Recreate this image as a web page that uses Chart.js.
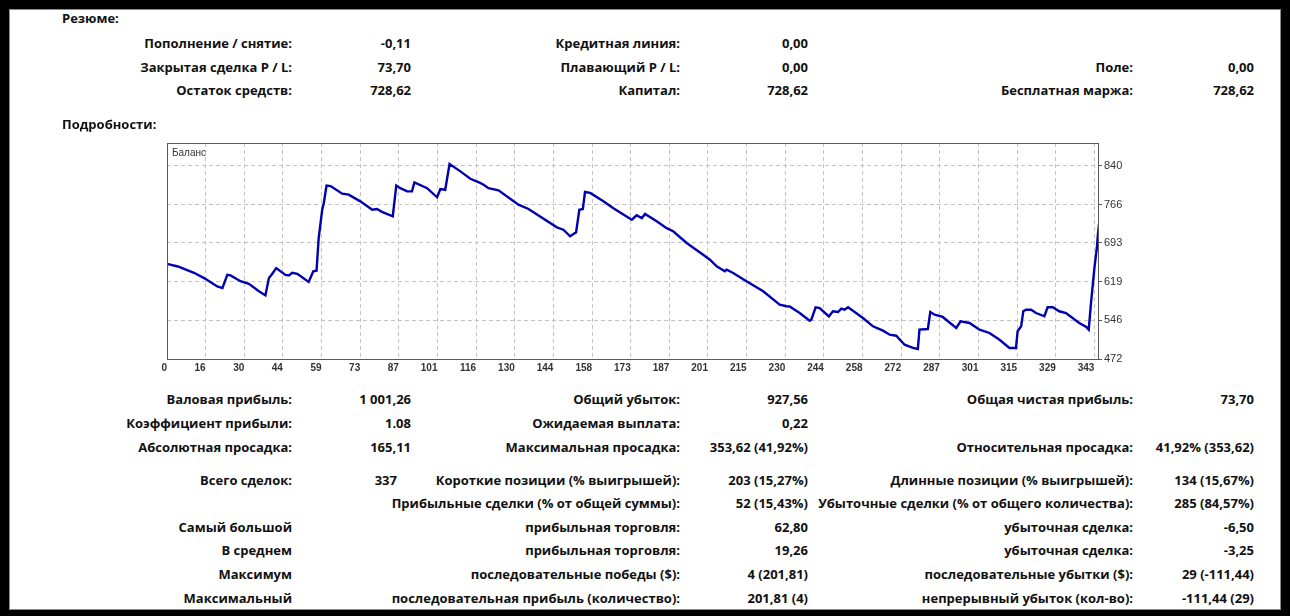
<!DOCTYPE html>
<html>
<head>
<meta charset="utf-8">
<script src="https://cdn.jsdelivr.net/npm/chart.js@4.4.1/dist/chart.umd.min.js"></script>
<style>
  html, body { margin: 0; padding: 0; background: #000; width: 1290px; height: 616px; overflow: hidden; }
  #sheet { position: absolute; left: 9px; top: 9px; width: 1270px; height: 599px; background: #fff; border: 1px solid #8a8a8a; }
  .t { position: absolute; font: bold 13px "Open Sans", "Liberation Sans", Arial, sans-serif; color: #111; line-height: 16px; white-space: nowrap; }
  .r { text-align: right; width: 500px; }
  #chartBox { position: absolute; left: 150px; top: 140px; width: 1000px; height: 240px; }
  #legend { position: absolute; left: 172px; top: 147px; font: 10px "Liberation Sans", Arial, sans-serif; color: #333; }
</style>
</head>
<body>
<div id="sheet"></div>
<div id="chartBox"><canvas id="balanceChart"></canvas></div>
<div id="legend">Баланс</div>
<script>
// x axis labels (trade number) and y axis labels
const xLabels = ["0", "16", "30", "44", "59", "73", "87", "101", "116", "130", "144", "158", "173",
  "187", "201", "215", "230", "244", "258", "272", "287", "301", "315", "329", "343"];
const yTicks = [472, 546, 619, 693, 766, 840];

// balance curve (trade number -> balance)
const tradeNo = [0, 4, 10, 13.7, 18.6, 20.5, 22.3, 23.5, 27.2, 30.3,
  34, 36.4, 37.7, 38.6, 40.4, 43.8, 45.1, 46.3, 48.2, 52.4,
  54.1, 55.3, 56.1, 57.4, 58, 59, 60.5, 64.8, 67.2, 71.5,
  75.9, 77.7, 79.5, 83.5, 84.8, 86.3, 88.8, 90.6, 91.5, 96.2,
  99.9, 101.1, 102.9, 104.5, 108.5, 112.2, 115.8, 117.1, 118.9, 122.6,
  130, 133.7, 144.2, 146.6, 149.1, 151.3, 152.5, 153.8, 154.6, 156.5,
  161.4, 165.1, 171.9, 173.7, 175.6, 176.8, 181.1, 184.8, 187.2, 192.2,
  198.3, 200.8, 203.3, 206.3, 207, 209.4, 214.3, 220.5, 226.6, 229.1,
  230.3, 234, 237.7, 238.3, 239.9, 241.4, 244.8, 246.3, 248.2, 249.4,
  250.6, 251.9, 257.4, 261.1, 264.8, 267.3, 269.7, 272.8, 275.9, 277.7,
  278.3, 281.4, 282.3, 283.9, 286.9, 291.9, 293.5, 296.8, 300.5, 304.2,
  307.9, 311.6, 314, 314.6, 315.9, 316.7, 317.7, 319.6, 321.4, 324.5,
  325.7, 327.6, 330, 332.5, 337.4, 340, 340.9, 341.8, 343, 343.9,
  344.3, 344.7];
const balance = [653, 648, 636, 626, 610, 607, 632, 631, 620, 615,
  601, 593, 626, 632, 645, 632, 631, 636, 634, 618.5,
  639, 640, 702, 756, 769, 802, 801, 786.6, 784.7, 772,
  756, 757.5, 752, 743.6, 802, 797, 791, 791, 808, 797,
  779.7, 795.5, 794, 843, 829, 815, 807, 803.7, 797, 793,
  765.6, 757.5, 722.6, 718, 705.5, 713, 756, 757.5, 789.8, 788,
  772, 759, 737, 745.5, 740, 748, 734, 721, 715, 692.7,
  670.5, 661, 648.4, 639, 642, 635.7, 620, 600.8, 575.3, 572.3,
  572, 559.5, 544.9, 546.8, 570.4, 569, 553, 562.8, 561.4, 567.7,
  565.8, 570.4, 550, 534.2, 525.9, 518.2, 516.3, 499.2, 493, 491,
  527.8, 529, 561.4, 556.3, 552, 531, 543.7, 540.5, 527.8, 521.5,
  508.7, 493, 493, 524.7, 534.2, 562.8, 565.8, 565.8, 559.5, 553.3,
  570.4, 570.4, 562.8, 559.5, 540.5, 532.9, 527.8, 581.8, 645, 683.2,
  708.5, 728.6];

// report text: [text, right edge x, centre y]
const reportHeads = [["Резюме:", 18], ["Подробности:", 124]];
const reportCells = [
  ["Пополнение / снятие:", 292, 43], ["-0,11", 411, 43], ["Кредитная линия:", 680, 43], ["0,00", 808, 43],
  ["Закрытая сделка P / L:", 292, 67], ["73,70", 411, 67], ["Плавающий P / L:", 680, 67], ["0,00", 808, 67],
  ["Поле:", 1133, 67], ["0,00", 1254, 67],
  ["Остаток средств:", 292, 90], ["728,62", 411, 90], ["Капитал:", 680, 90], ["728,62", 808, 90],
  ["Бесплатная маржа:", 1133, 90], ["728,62", 1254, 90],

  ["Валовая прибыль:", 292, 399], ["1 001,26", 411, 399], ["Общий убыток:", 680, 399], ["927,56", 808, 399],
  ["Общая чистая прибыль:", 1133, 399], ["73,70", 1254, 399],
  ["Коэффициент прибыли:", 292, 423], ["1.08", 411, 423], ["Ожидаемая выплата:", 680, 423], ["0,22", 808, 423],
  ["Абсолютная просадка:", 292, 447], ["165,11", 411, 447], ["Максимальная просадка:", 680, 447],
  ["353,62 (41,92%)", 808, 447], ["Относительная просадка:", 1133, 447], ["41,92% (353,62)", 1254, 447],
  ["Всего сделок:", 292, 480], ["337", 397, 480], ["Короткие позиции (% выигрышей):", 680, 480],
  ["203 (15,27%)", 808, 480], ["Длинные позиции (% выигрышей):", 1133, 480], ["134 (15,67%)", 1254, 480],
  ["Прибыльные сделки (% от общей суммы):", 680, 503], ["52 (15,43%)", 808, 503],
  ["Убыточные сделки (% от общего количества):", 1133, 503], ["285 (84,57%)", 1254, 503],
  ["Самый большой", 292, 527], ["прибыльная торговля:", 680, 527], ["62,80", 808, 527],
  ["убыточная сделка:", 1133, 527], ["-6,50", 1254, 527],
  ["В среднем", 292, 550], ["прибыльная торговля:", 680, 550], ["19,26", 808, 550],
  ["убыточная сделка:", 1133, 550], ["-3,25", 1254, 550],
  ["Максимум", 292, 574], ["последовательные победы ($):", 680, 574], ["4 (201,81)", 808, 574],
  ["последовательные убытки ($):", 1133, 574], ["29 (-111,44)", 1254, 574],
  ["Максимальный", 292, 598], ["последовательная прибыль (количество):", 680, 598], ["201,81 (4)", 808, 598],
  ["непрерывный убыток (кол-во):", 1133, 598], ["-111,44 (29)", 1254, 598]
];

reportHeads.forEach(([text, y]) => {
  const d = document.createElement("div");
  d.className = "t";
  d.style.left = "62px";
  d.style.top = (y - 8) + "px";
  d.textContent = text;
  document.body.appendChild(d);
});
reportCells.forEach(([text, x, y]) => {
  const d = document.createElement("div");
  d.className = "t r";
  d.style.left = (x - 500) + "px";
  d.style.top = (y - 8) + "px";
  d.textContent = text;
  document.body.appendChild(d);
});

const xStep = 343 / 24;

const frame = {
  id: "frame",
  afterDraw(chart) {
    const { ctx, chartArea: a } = chart;
    ctx.save();
    ctx.strokeStyle = "#5a5a5a";
    ctx.lineWidth = 1;
    ctx.strokeRect(Math.round(a.left) + 0.5, Math.round(a.top) + 0.5,
      Math.round(a.right - a.left) - 1, Math.round(a.bottom - a.top));
    ctx.restore();
  },
};

new Chart(document.getElementById("balanceChart"), {
  type: "line",
  data: {
    datasets: [{
      label: "Баланс",
      data: tradeNo.map((t, i) => ({ x: t, y: balance[i] })),
      borderColor: "#0000b0",
      borderWidth: 2.4,
      pointRadius: 0,
      tension: 0,
    }],
  },
  options: {
    responsive: true,
    maintainAspectRatio: false,
    animation: false,
    layout: { padding: { left: 17, top: 3, right: 0, bottom: 0 } },
    plugins: { legend: { display: false }, tooltip: { enabled: false } },
    scales: {
      x: {
        type: "linear",
        min: 0,
        max: 344.7,
        afterBuildTicks: (s) => { s.ticks = xLabels.map((l, i) => ({ value: i * xStep })); },
        afterFit: (s) => { s.height = 21; s.paddingLeft = 0; s.paddingRight = 0; },
        grid: { color: "#c4c4c4", drawTicks: false },
        border: { display: false, dash: [4, 3] },
        ticks: {
          align: "end",
          padding: 3,
          maxRotation: 0,
          autoSkip: false,
          color: "#333",
          font: { family: "Liberation Sans", size: 10, weight: "bold" },
          callback: (v, i) => xLabels[i],
        },
      },
      y: {
        position: "right",
        min: 472,
        max: 883,
        afterBuildTicks: (s) => { s.ticks = yTicks.map((v) => ({ value: v })); },
        afterFit: (s) => { s.width = 51; s.paddingTop = 0; s.paddingBottom = 0; },
        grid: { color: "#c4c4c4", tickLength: 3, tickColor: "#555" },
        border: { display: false, dash: [4, 3] },
        ticks: {
          padding: 2,
          color: "#333",
          font: { family: "Liberation Sans", size: 11 },
        },
      },
    },
  },
  plugins: [frame],
});
</script>
</body>
</html>
